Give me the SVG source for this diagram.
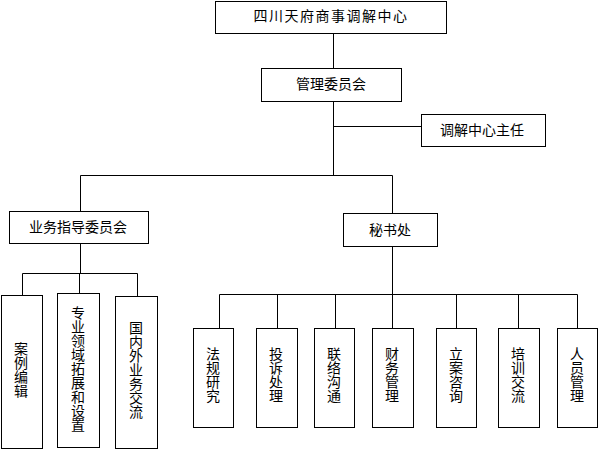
<svg xmlns="http://www.w3.org/2000/svg" width="598" height="450" viewBox="0 0 598 450">
<style>
.box{fill:#fff;stroke:#000;stroke-width:1}
.ln{fill:none;stroke:#000;stroke-width:1}
text{font-family:"Noto Sans CJK SC","Liberation Sans",sans-serif;font-size:14px;fill:#000}
.h{text-anchor:middle}
.v{writing-mode:vertical-rl;text-orientation:upright;text-anchor:start}
</style>
<rect width="598" height="450" fill="#fff"/>
<g id="connectors" class="ln">
<path d="M333.5 33 V68"/>
<path d="M333.5 101 V175.5"/>
<path d="M333.5 126.5 H421"/>
<path d="M80.5 211 V175.5 H392.5 V213"/>
<path d="M80.5 243 V273.5"/>
<path d="M22.5 295 V273.5 H137.5 V296"/>
<path d="M79.5 273.5 V293"/>
<path d="M392.5 246 V294.5"/>
<path d="M219.5 328 V294.5 H577.5 V328"/>
<path d="M277.5 294.5 V328"/>
<path d="M335.5 294.5 V328"/>
<path d="M392.5 294.5 V328"/>
<path d="M456.5 294.5 V328"/>
<path d="M518.5 294.5 V328"/>
</g>
<g id="n-root"><rect class="box" x="215.5" y="1.5" width="231" height="32"/><text class="h" x="331" y="21" letter-spacing="1.5">四川天府商事调解中心</text></g>
<g id="n-mgmt"><rect class="box" x="261.5" y="68.5" width="140" height="33"/><text class="h" x="331" y="89">管理委员会</text></g>
<g id="n-director"><rect class="box" x="421.5" y="114.5" width="124" height="32"/><text class="h" x="482" y="135">调解中心主任</text></g>
<g id="n-business"><rect class="box" x="9.5" y="211.5" width="139" height="32"/><text class="h" x="78" y="232">业务指导委员会</text></g>
<g id="n-secretary"><rect class="box" x="343.5" y="213.5" width="94" height="33"/><text class="h" x="390" y="235">秘书处</text></g>
<g id="n-case"><rect class="box" x="1.5" y="295.5" width="41" height="153"/><text class="v" x="21" y="342">案例编辑</text></g>
<g id="n-field"><rect class="box" x="57.5" y="293.5" width="42" height="154"/><text class="v" x="78" y="306">专业领域拓展和设置</text></g>
<g id="n-intl"><rect class="box" x="115.5" y="296.5" width="42" height="152"/><text class="v" x="136" y="321">国内外业务交流</text></g>
<g id="n-law"><rect class="box" x="193.5" y="328.5" width="40" height="99"/><text class="v" x="213" y="347">法规研究</text></g>
<g id="n-complaint"><rect class="box" x="256.5" y="328.5" width="41" height="99"/><text class="v" x="276" y="347">投诉处理</text></g>
<g id="n-liaison"><rect class="box" x="314.5" y="328.5" width="40" height="99"/><text class="v" x="334" y="347">联络沟通</text></g>
<g id="n-finance"><rect class="box" x="372.5" y="328.5" width="41" height="99"/><text class="v" x="392" y="347">财务管理</text></g>
<g id="n-filing"><rect class="box" x="436.5" y="328.5" width="40" height="99"/><text class="v" x="456" y="347">立案咨询</text></g>
<g id="n-training"><rect class="box" x="498.5" y="328.5" width="41" height="99"/><text class="v" x="518" y="347">培训交流</text></g>
<g id="n-staff"><rect class="box" x="557.5" y="328.5" width="40" height="99"/><text class="v" x="577" y="347">人员管理</text></g>
</svg>
